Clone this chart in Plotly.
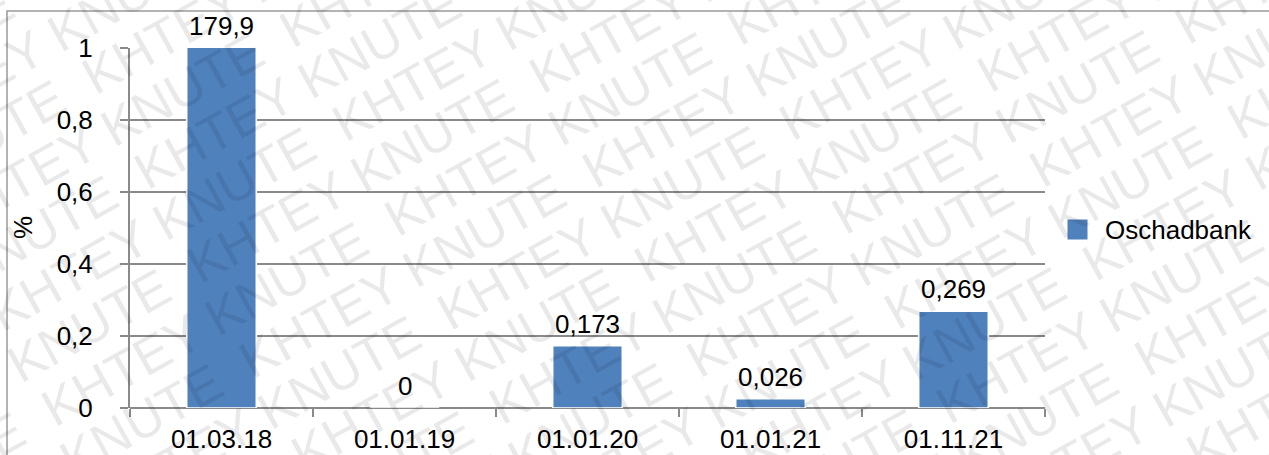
import math
import plotly.graph_objects as go

# Chart data
categories = ["01.03.18", "01.01.19", "01.01.20", "01.01.21", "01.11.21"]
values = [179.9, 0, 0.173, 0.026, 0.269]
series_name = "Oschadbank"
y_ticks = [0, 0.2, 0.4, 0.6, 0.8, 1]
y_tick_labels = ["0", "0,2", "0,4", "0,6", "0,8", "1"]
y_max = 1.0
watermark = "KHTEY KNUTE"

W, H = 1269, 455
ML, MR, MT, MB = 130, 224, 48, 47
PW, PH = W - ML - MR, H - MT - MB

BAR_COLOR = "#4F81BD"
GRID = "#8a8a8a"
FONT = "Liberation Sans, Arial, Helvetica, sans-serif"
FS = 26


def px_x(px):
    return (px - ML) / PW


def px_y(py):
    return (H - MB - py) / PH


def fmt(v):
    return f"{v:g}".replace(".", ",")


fig = go.Figure()
fig.add_trace(go.Bar(
    x=categories,
    y=values,
    name=series_name,
    marker=dict(color=BAR_COLOR, line=dict(color="white", width=1.5)),
    width=0.38,
    showlegend=False,
))

annotations = []

# tiled diagonal watermark: copies laid out along slanted rows
ANG = 29.0
WM_SIZE = 52
PERIOD = 392      # distance between copies along a row
ROW_GAP = 54      # distance between rows, measured across them
ROW_SHIFT = 196   # along-row offset of each next row
ux, uy = math.cos(math.radians(ANG)), -math.sin(math.radians(ANG))
nx, ny = math.sin(math.radians(ANG)), math.cos(math.radians(ANG))
ox, oy = 600, 228
for b in range(-20, 21):
    for a in range(-6, 7):
        s = a * PERIOD + b * ROW_SHIFT
        cx = ox + s * ux + b * ROW_GAP * nx
        cy = oy + s * uy + b * ROW_GAP * ny
        if -220 < cx < W + 220 and -120 < cy < H + 120:
            annotations.append(dict(
                x=px_x(cx), y=px_y(cy), xref="paper", yref="paper",
                xanchor="center", yanchor="middle",
                text=watermark, showarrow=False, textangle=-ANG,
                font=dict(family=FONT, size=WM_SIZE, color="rgba(0,0,0,0.085)"),
            ))

# value labels above each bar (clipped bars get the label at the top of the axis)
for c, v in zip(categories, values):
    annotations.append(dict(
        x=c, y=min(v, y_max), xref="x", yref="y",
        text=fmt(v), showarrow=False, xanchor="center", yanchor="bottom", yshift=5,
        font=dict(family=FONT, size=FS, color="black"),
    ))

# y-axis title
annotations.append(dict(
    x=px_x(23), y=px_y(228), xref="paper", yref="paper",
    xanchor="center", yanchor="middle",
    text="%", textangle=-90, showarrow=False,
    font=dict(family=FONT, size=FS, color="black"),
))

# legend text
annotations.append(dict(
    x=px_x(1103), y=px_y(230), xref="paper", yref="paper",
    text=series_name, showarrow=False, xanchor="left", yanchor="middle",
    font=dict(family=FONT, size=FS, color="black"),
))

shapes = [
    # outer frame
    dict(type="rect", xref="paper", yref="paper",
         x0=px_x(7), x1=px_x(W + 20), y0=px_y(H + 20), y1=px_y(11),
         line=dict(color="#9a9a9a", width=1.5), fillcolor="rgba(0,0,0,0)",
         layer="below"),
    # legend swatch
    dict(type="rect", xref="paper", yref="paper",
         x0=px_x(1067), x1=px_x(1088), y0=px_y(240), y1=px_y(219),
         line=dict(color="white", width=1), fillcolor=BAR_COLOR),
]

fig.update_layout(
    width=W, height=H,
    margin=dict(l=ML, r=MR, t=MT, b=MB, pad=0, autoexpand=False),
    paper_bgcolor="white", plot_bgcolor="white",
    font=dict(family=FONT, size=FS, color="black"),
    bargap=0.62,
    annotations=annotations,
    shapes=shapes,
    xaxis=dict(
        type="category", tickson="boundaries", automargin=False,
        ticks="outside", ticklen=8, tickwidth=2, tickcolor=GRID,
        showline=False, showgrid=False, zeroline=False,
        tickfont=dict(family=FONT, size=FS, color="black"),
        ticklabelstandoff=13,
    ),
    yaxis=dict(
        range=[0, y_max], tickvals=y_ticks, ticktext=y_tick_labels,
        automargin=False,
        ticks="outside", ticklen=8, tickwidth=2, tickcolor=GRID,
        showgrid=True, gridcolor=GRID, gridwidth=2,
        showline=True, linecolor=GRID, linewidth=2,
        zeroline=True, zerolinecolor=GRID, zerolinewidth=2,
        tickfont=dict(family=FONT, size=FS, color="black"),
        ticklabelstandoff=22,
    ),
)

fig.write_html("out.html")
